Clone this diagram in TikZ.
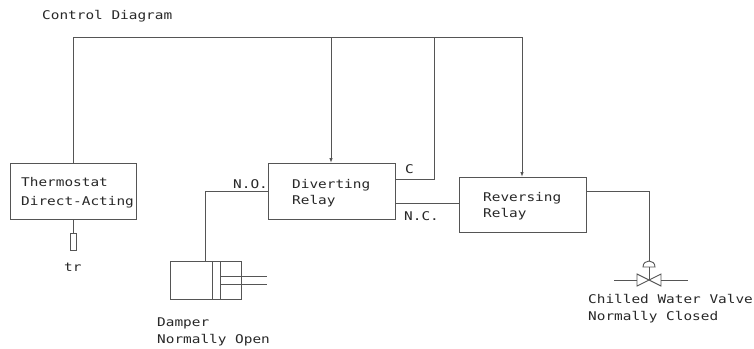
\documentclass[tikz,border=0pt]{standalone}
\usepackage{fontspec}
\setmainfont{DejaVu Sans Mono}[FakeStretch=1.2]
\usetikzlibrary{arrows.meta}
\definecolor{wire}{RGB}{85,85,85}
\definecolor{ink}{RGB}{40,40,40}
\begin{document}
\begin{tikzpicture}[x=1pt,y=-1pt,
  wirestyle/.style={draw=wire,line width=0.9pt},
  boxstyle/.style={draw=wire,line width=0.9pt,anchor=north west,inner sep=0pt,outer sep=0pt},
  lbl/.style={anchor=base west,inner sep=0pt,text=ink,font=\fontsize{12}{14}\selectfont},
  tip/.style={-{Latex[length=5pt,width=3.5pt]}}]
\useasboundingbox[fill=white] (0,0) rectangle (754,348);
% boxes
\node[boxstyle,minimum width=126pt,minimum height=56pt] (thermo) at (10,163) {};
\node[boxstyle,minimum width=127pt,minimum height=56pt] (div) at (268,163) {};
\node[boxstyle,minimum width=127pt,minimum height=55pt] (rev) at (459,177) {};
\node[boxstyle,minimum width=71pt,minimum height=38pt] (damper) at (170,261) {};
\node[boxstyle,minimum width=6pt,minimum height=17pt] (sensor) at (70,233) {};
% junction coordinates
\coordinate (t1) at (73,37);
\coordinate (t2) at (331,37);
\coordinate (t3) at (434,37);
\coordinate (t4) at (522,37);
\coordinate (cC) at (434,179);
\coordinate (ncy) at (400,203);
\coordinate (no) at (205,191);
\coordinate (ro) at (649,191);
\coordinate (valve) at (649,280);
\coordinate (dome) at (649,267);
% top bus
\draw[wirestyle] (thermo.north -| t1) -- (t1) -- (t3);
\draw[wirestyle,tip] (t3) -- (t4) -- (rev.north -| t4);
\draw[wirestyle,tip] (t2) -- (t2 |- div.north);
% C
\draw[wirestyle] (cC -| div.east) -- (cC) -- (t3);
% N.C.
\draw[wirestyle] (ncy -| div.east) -- (ncy -| rev.west);
% N.O. to damper
\draw[wirestyle] (no -| div.west) -- (no) -- (no |- damper.north);
% damper internals
\draw[wirestyle] (212,261) -- (212,299) (220,261) -- (220,299);
\draw[wirestyle] (220,276) -- (267,276) (220,284) -- (267,284);
% thermostat sensor
\draw[wirestyle] (thermo.south -| sensor.north) -- (sensor.north);
% reversing relay to valve
\draw[wirestyle] (ro -| rev.east) -- (ro) -- ([yshift=6pt]ro |- dome);
\draw[wirestyle] ([xshift=-6pt]dome) .. controls ([xshift=-6pt,yshift=8pt]dome) and ([xshift=6pt,yshift=8pt]dome) .. ([xshift=6pt]dome) -- cycle;
\draw[wirestyle] (dome) -- (valve);
\draw[wirestyle] ([xshift=-12pt,yshift=6pt]valve) -- ([xshift=-12pt,yshift=-6pt]valve) -- ([xshift=12pt,yshift=6pt]valve) -- ([xshift=12pt,yshift=-6pt]valve) -- cycle;
\draw[wirestyle] ([xshift=-35pt]valve) -- ([xshift=-12pt]valve) ([xshift=12pt]valve) -- ([xshift=39pt]valve);
% labels
\node[lbl] (title) at (42,19) {Control Diagram};
\node[lbl] (th1) at (21,186) {Thermostat};
\node[lbl] (th2) at (21,205) {Direct-Acting};
\node[lbl] (tr) at (64,271) {tr};
\node[lbl] (nol) at (233,188) {N.O.};
\node[lbl] (dv1) at (292,188) {Diverting};
\node[lbl] (dv2) at (292,204) {Relay};
\node[lbl] (cl) at (405,173) {C};
\node[lbl] (ncl) at (404,220) {N.C.};
\node[lbl] (rv1) at (483,201) {Reversing};
\node[lbl] (rv2) at (483,217) {Relay};
\node[lbl] (cw1) at (588,303) {Chilled Water Valve};
\node[lbl] (cw2) at (588,320) {Normally Closed};
\node[lbl] (dm1) at (157,326) {Damper};
\node[lbl] (dm2) at (157,343) {Normally Open};
\end{tikzpicture}
\end{document}
